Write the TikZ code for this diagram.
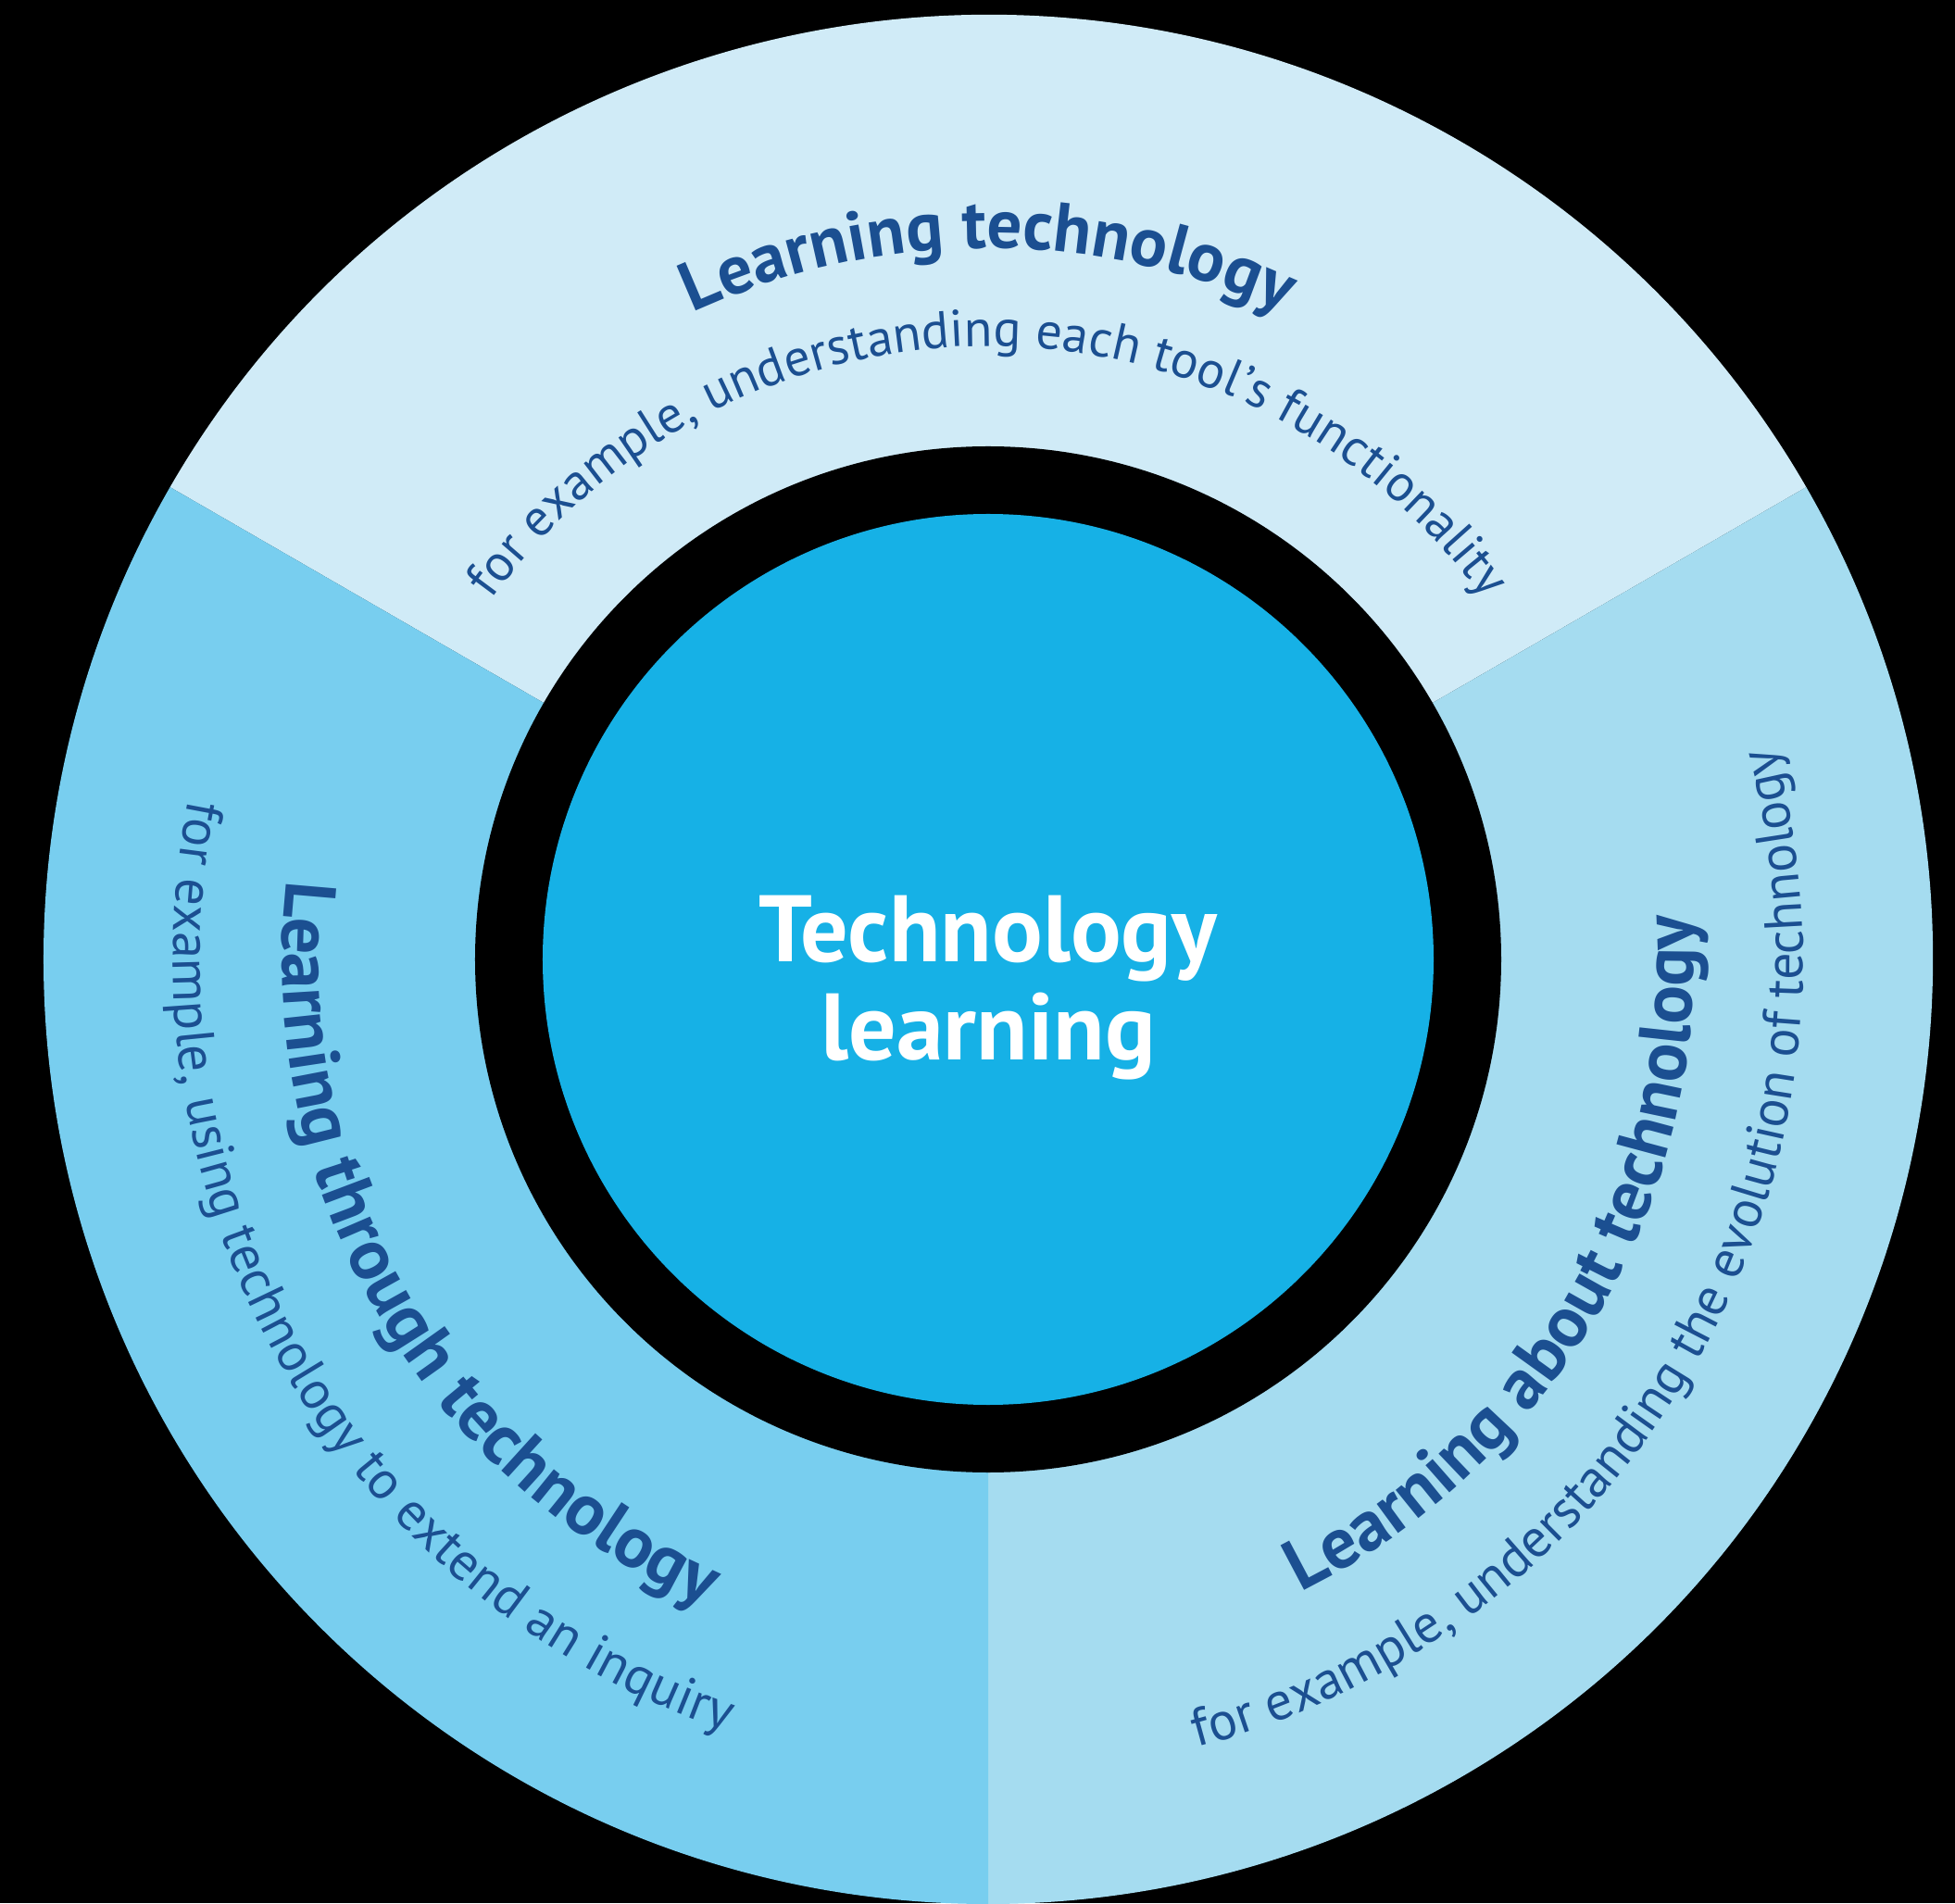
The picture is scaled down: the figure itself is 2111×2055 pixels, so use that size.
\documentclass[tikz,border=0pt]{standalone}
\usepackage{fontspec}
\setmainfont{PT Sans}
\usetikzlibrary{decorations.text}
\definecolor{topc}{RGB}{208,235,247}
\definecolor{leftc}{RGB}{120,206,239}
\definecolor{rightc}{RGB}{165,220,240}
\definecolor{corec}{RGB}{22,177,230}
\definecolor{textc}{RGB}{27,79,145}
\newcommand\headfnt{\bfseries\fontsize{78}{90}\selectfont}
\newcommand\headtopfnt{\bfseries\fontsize{75}{88}\selectfont}
\newcommand\subfnt{\fontsize{58}{68}\selectfont}
\newcommand\subtopfnt{\fontsize{56}{66}\selectfont}
\begin{document}
\begin{tikzpicture}[x=1pt,y=1pt,
  arctext/.style={decorate, decoration={text along path, text align=center, text color=textc, text={#1}}},
  coretext/.style={text=white, font=\bfseries\fontsize{102}{115}\selectfont, anchor=base, inner sep=0pt}]
\useasboundingbox (-1067,-1019) rectangle (1044,1036);
\fill[black] (-1067,-1019) rectangle (1044,1036);
% sectors
\fill[topc]   (0,0) -- (150:1020) arc[start angle=150, end angle=30,   radius=1020] -- cycle;
\fill[rightc] (0,0) -- (30:1020)  arc[start angle=30,  end angle=-90,  radius=1020] -- cycle;
\fill[leftc]  (0,0) -- (-90:1020) arc[start angle=-90, end angle=-210, radius=1020] -- cycle;
% ring and core
\fill[black] (0,0) circle[radius=554];
\node[circle, fill=corec, minimum size=962pt, inner sep=0pt] (core) at (0,0) {};
\node[coretext] (t1) at (0,-3) {Technology};
\node[coretext] (t2) at (0,-108) {learning};
% top sector
\path[arctext={|\headtopfnt|Learning technology}] (150:768) arc[start angle=150, end angle=30, radius=768];
\path[arctext={|\subtopfnt|for example, understanding each tool's functionality}] (160:662) arc[start angle=160, end angle=20, radius=662];
% left sector
\path[arctext={|\headfnt|Learning through technology}] (150:762) arc[start angle=150, end angle=270, radius=762];
\path[arctext={|\subfnt|for example, using technology to extend an inquiry}] (150:880) arc[start angle=150, end angle=270, radius=880];
% right sector
\path[arctext={|\headfnt|Learning about technology}] (-90:762) arc[start angle=-90, end angle=30, radius=762];
\path[arctext={|\subfnt|for example, understanding the evolution of technology}] (-90:880) arc[start angle=-90, end angle=30, radius=880];
\end{tikzpicture}
\end{document}
